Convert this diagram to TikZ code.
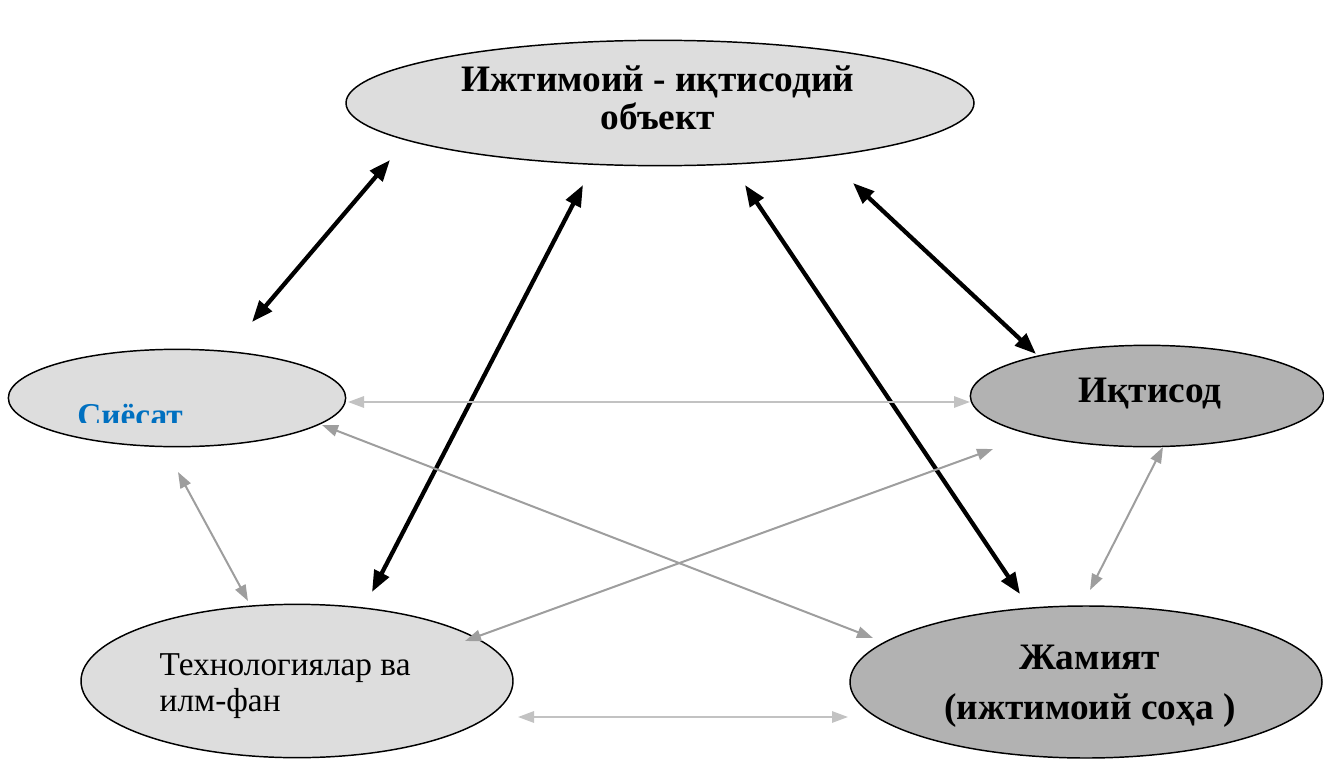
\documentclass[tikz,border=0pt]{standalone}
\usepackage{fontspec}
\setmainfont{Liberation Serif}
\usetikzlibrary{shapes.geometric,arrows.meta}

\definecolor{ovlight}{gray}{0.865}
\definecolor{ovdark}{gray}{0.70}
\definecolor{lnlight}{gray}{0.76}
\definecolor{lnmid}{gray}{0.62}
\definecolor{txtblue}{RGB}{0,112,192}

\begin{document}
\begin{tikzpicture}[x=0.75pt,y=-0.75pt,
  oval/.style={ellipse,draw,line width=1.1pt,inner sep=0pt},
  light/.style={oval,fill=ovlight},
  dark/.style={oval,fill=ovdark},
  strong/.style={{Triangle[length=16pt,width=12pt]}-{Triangle[length=16pt,width=12pt]},line width=3.2pt},
  weak/.style={{Triangle[length=12pt,width=8.5pt]}-{Triangle[length=12pt,width=8.5pt]},line width=1.5pt,lnmid},
  faint/.style={weak,lnlight},
  big/.style={font=\fontsize{28}{28.5}\selectfont\bfseries},
  plain/.style={font=\fontsize{25}{27}\selectfont}]

\useasboundingbox (0,0) rectangle (1324,760);

\node[light,minimum width=471pt,minimum height=94pt] (obj) at (660,103) {};
\node[light,minimum width=253pt,minimum height=73pt] (sie) at (177,398) {};
\node[dark,minimum width=265pt,minimum height=76pt] (iqt) at (1147,396) {};
\node[light,minimum width=324pt,minimum height=115pt] (tex) at (297,681) {};
\node[dark,minimum width=354pt,minimum height=114pt] (jam) at (1086,682) {};

\node[big,align=center] (objtxt) at (658,98) {Ижтимоий - иқтисодий\\объект};
\begin{scope}
\clip (0,340) rectangle (346,422);
\node[big,font=\fontsize{25}{27}\selectfont\bfseries,text=txtblue,anchor=base] (sietxt) at (130,426) {Сиёсат};
\end{scope}
\node[big,anchor=base] (iqttxt) at (1150,402) {Иқтисод};
\node[plain,align=left,anchor=west] (textxt) at (155,686) {Технологиялар ва\\илм-фан};
\node[big,font=\fontsize{28}{37.5}\selectfont\bfseries,align=center] (jamtxt) at (1090,686) {Жамият\\(ижтимоий соҳа )};

% arrow ends
\coordinate (o1) at (390,160);  \coordinate (s1) at (252,322);
\coordinate (o2) at (583,185);  \coordinate (t1) at (372,592);
\coordinate (o3) at (745,185);  \coordinate (j1) at (1020,594);
\coordinate (o4) at (853,183);  \coordinate (i1) at (1036,354);
\coordinate (s2) at (348,402);  \coordinate (i2) at (970,402);
\coordinate (s3) at (322,425);  \coordinate (j2) at (873,638);
\coordinate (i3) at (993,449);  \coordinate (t2) at (465,641);
\coordinate (s4) at (178,472);  \coordinate (t3) at (248,601);
\coordinate (i4) at (1163,447); \coordinate (j3) at (1090,590);
\coordinate (t4) at (518,717);  \coordinate (j4) at (848,717);

\draw[strong] (o1) -- (s1);
\draw[strong] (o2) -- (t1);
\draw[strong] (o3) -- (j1);
\draw[strong] (o4) -- (i1);

\draw[faint] (s2) -- (i2);
\draw[weak] (s3) -- (j2);
\draw[weak] (i3) -- (t2);
\draw[weak] (s4) -- (t3);
\draw[weak] (i4) -- (j3);
\draw[faint] (t4) -- (j4);
\end{tikzpicture}
\end{document}
